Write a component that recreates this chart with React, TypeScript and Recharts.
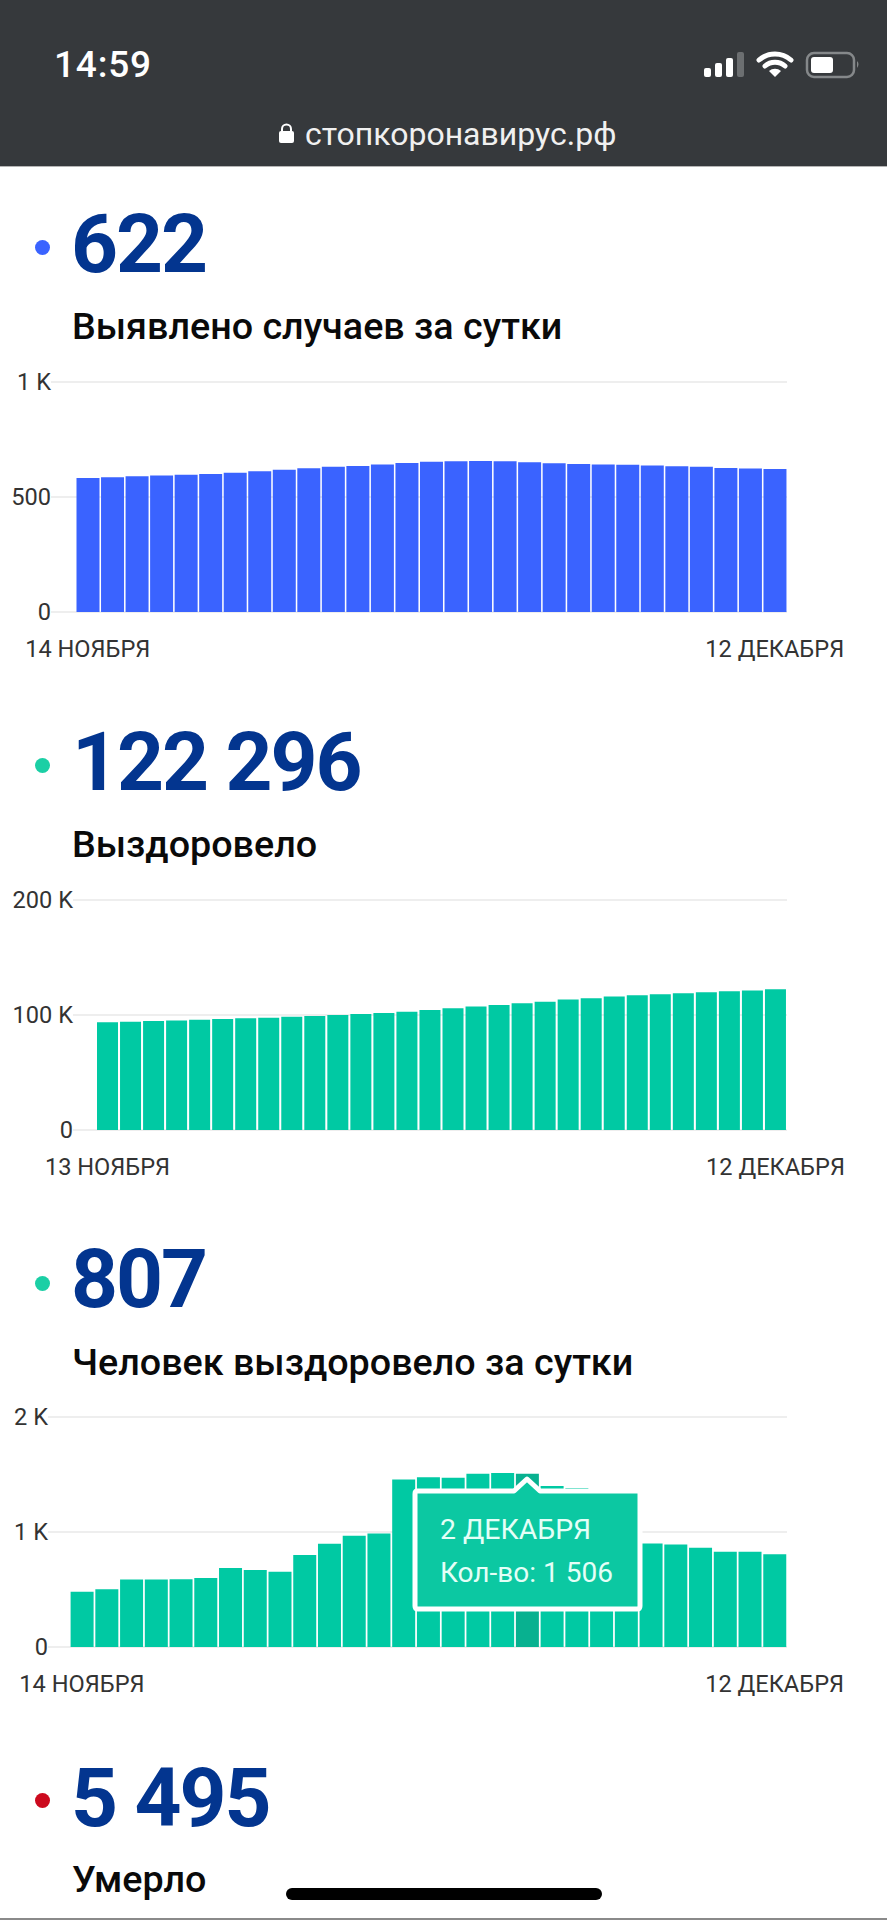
import { Bar, BarChart, CartesianGrid, Tooltip, XAxis, YAxis } from "recharts";

const days14Nov = [
  "14 НОЯБРЯ", "15 НОЯБРЯ", "16 НОЯБРЯ", "17 НОЯБРЯ", "18 НОЯБРЯ", "19 НОЯБРЯ", "20 НОЯБРЯ", "21 НОЯБРЯ",
  "22 НОЯБРЯ", "23 НОЯБРЯ", "24 НОЯБРЯ", "25 НОЯБРЯ", "26 НОЯБРЯ", "27 НОЯБРЯ", "28 НОЯБРЯ", "29 НОЯБРЯ",
  "30 НОЯБРЯ", "1 ДЕКАБРЯ", "2 ДЕКАБРЯ", "3 ДЕКАБРЯ", "4 ДЕКАБРЯ", "5 ДЕКАБРЯ", "6 ДЕКАБРЯ", "7 ДЕКАБРЯ",
  "8 ДЕКАБРЯ", "9 ДЕКАБРЯ", "10 ДЕКАБРЯ", "11 ДЕКАБРЯ", "12 ДЕКАБРЯ",
];
const days13Nov = ["13 НОЯБРЯ", ...days14Nov];

const newCases = [
  583, 586, 590, 593, 597, 600, 605, 612, 619, 625, 632, 635, 641, 648, 653, 655, 657, 655, 651, 647, 644, 641,
  640, 637, 634, 631, 626, 624, 622,
];
const recoveredTotal = [
  93600, 94200, 94800, 95300, 95900, 96500, 97100, 97700, 98500, 99100, 100000, 100900, 101700, 102900, 104400,
  105800, 107300, 108700, 110200, 111600, 113400, 114500, 116000, 117200, 118000, 118900, 119800, 120600, 121200,
  122296,
];
// bars 21 and 22 sit behind the tooltip in the picture, so these two are guesses
const recoveredDaily = [
  480, 503, 587, 587, 590, 599, 686, 669, 654, 800, 898, 968, 988, 1456, 1477, 1471, 1506, 1512, 1506, 1400, 1382,
  1250, 1050, 901, 892, 863, 828, 828, 807,
];

const newCasesTicks = [0, 500, 1000];
const recoveredTotalTicks = [0, 100000, 200000];
const recoveredDailyTicks = [0, 1000, 2000];

const BLUE = "#3a63ff";
const GREEN = "#00c9a3";
const DARK_GREEN = "#08b190";
const NAVY = "#03358f";
const FONT = "Roboto, sans-serif";

const formatAxis = (v: number) => (v >= 1000 ? `${v / 1000} K` : `${v}`);

function BubbleTooltip({ active, payload, label }: any) {
  if (!active || !payload?.length) return null;
  const value = String(payload[0].value).replace(/\B(?=(\d{3})+$)/g, " ");
  return (
    <svg width={240} height={146} style={{ display: "block", fontFamily: FONT }}>
      <path
        d="M10 21 H107 L120 9 L133 21 H231 Q233 21 233 24 V136 Q233 139 230 139 H11 Q8 139 8 136 V24 Q8 21 10 21 Z"
        fill="#0cc8a2"
        stroke="#fff"
        strokeWidth={5}
        strokeLinejoin="round"
      />
      <text x={33} y={69} fontSize={28.4} fill="#e4fff7">
        {label}
      </text>
      <text x={33} y={112} fontSize={28} fill="#e4fff7">
        Кол-во: {value}
      </text>
    </svg>
  );
}

function DayBars({
  days,
  values,
  yTicks,
  color,
  top,
  left,
  slot,
  showTooltip,
}: {
  days: string[];
  values: number[];
  yTicks: number[];
  color: string;
  top: number;
  left: number;
  slot: number;
  showTooltip?: boolean;
}) {
  const data = days.map((day, i) => ({ day, value: values[i] }));
  return (
    <div style={{ position: "absolute", left: 0, top }}>
      <BarChart
        width={887}
        height={310}
        data={data}
        margin={{ top: 20, right: 100, bottom: 0, left: 0 }}
        barCategoryGap={1}
      >
        <CartesianGrid stroke="#eeeeee" strokeWidth={2} vertical={false} />
        <XAxis
          dataKey="day"
          ticks={[days[0], days[days.length - 1]]}
          interval={0}
          height={60}
          padding={{ left: slot, right: 0 }}
          axisLine={false}
          tickLine={false}
          tickSize={0}
          tickMargin={28}
          tick={{ fill: "#333333", fontSize: 23.6, fontFamily: FONT }}
        />
        <YAxis
          width={left}
          domain={[yTicks[0], yTicks[yTicks.length - 1]]}
          ticks={yTicks}
          interval={0}
          tickFormatter={formatAxis}
          axisLine={false}
          tickLine={false}
          tickSize={0}
          tickMargin={0}
          tick={{ fill: "#333333", fontSize: 23.6, fontFamily: FONT }}
        />
        {showTooltip && (
          <Tooltip
            active
            defaultIndex={18}
            cursor={false}
            content={<BubbleTooltip />}
            position={{ x: 407, y: 1470 - top }}
            allowEscapeViewBox={{ x: true, y: true }}
            isAnimationActive={false}
          />
        )}
        <Bar dataKey="value" fill={color} isAnimationActive={false} activeBar={{ fill: DARK_GREEN }} />
      </BarChart>
    </div>
  );
}

function Headline({ x, dotY, base, dot, text }: { x: number; dotY: number; base: number; dot: string; text: string }) {
  return (
    <>
      <div
        style={{
          position: "absolute",
          left: 35,
          top: dotY - 7.5,
          width: 15,
          height: 15,
          borderRadius: "50%",
          background: dot,
        }}
      />
      <div
        style={{
          position: "absolute",
          left: x,
          top: base - 79,
          height: 100,
          lineHeight: "100px",
          fontFamily: FONT,
          fontWeight: 700,
          fontSize: 82,
          color: NAVY,
          letterSpacing: -2,
          whiteSpace: "nowrap",
        }}
      >
        {text}
      </div>
    </>
  );
}

function Caption({ base, text }: { base: number; text: string }) {
  return (
    <div
      style={{
        position: "absolute",
        left: 72,
        top: base - 38,
        height: 50,
        lineHeight: "50px",
        fontFamily: FONT,
        fontWeight: 500,
        fontSize: 37.7,
        color: "#0a0a0a",
        whiteSpace: "nowrap",
      }}
    >
      {text}
    </div>
  );
}

function BrowserBar() {
  return (
    <div style={{ position: "absolute", left: 0, top: 0, width: 887, height: 166, background: "#36393c", borderBottom: "1px solid #b5b5b5" }}>
      <div style={{ position: "absolute", left: 54, top: 42, lineHeight: "46px", fontFamily: FONT, fontWeight: 500, fontSize: 37, letterSpacing: 0.8, color: "#fff" }}>
        14:59
      </div>
      <div style={{ position: "absolute", left: 305, top: 114, lineHeight: "40px", fontFamily: FONT, fontSize: 32, color: "#f0f0f0" }}>
        стопкоронавирус.рф
      </div>
      <svg width={887} height={166} style={{ position: "absolute", left: 0, top: 0 }}>
        <rect x={279} y={131} width={15} height={12} rx={2} fill="#fff" />
        <path d="M282 132 V129 A4.5 4.5 0 0 1 291 129 V132" fill="none" stroke="#fff" strokeWidth={2} />
        <rect x={704} y={68} width={7} height={9} rx={2} fill="#fff" />
        <rect x={715} y={63} width={7} height={14} rx={2} fill="#fff" />
        <rect x={726} y={58} width={7} height={19} rx={2} fill="#fff" />
        <rect x={737} y={52} width={7} height={25} rx={2} fill="#6c6f71" />
        <path d="M759 60 A24 24 0 0 1 791 60" fill="none" stroke="#fff" strokeWidth={5} strokeLinecap="round" />
        <path d="M765 66 A15 15 0 0 1 785 66" fill="none" stroke="#fff" strokeWidth={5} strokeLinecap="round" />
        <path d="M775 77 L769 71 A9 9 0 0 1 781 71 Z" fill="#fff" />
        <rect x={807} y={53} width={47} height={24} rx={7} fill="none" stroke="#85888a" strokeWidth={2.5} />
        <rect x={811} y={57} width={22} height={16} rx={3} fill="#fff" />
        <path d="M857 61 Q860 64 857 68 Z" fill="#85888a" />
      </svg>
    </div>
  );
}

export default function App() {
  return (
    <div style={{ position: "absolute", left: 0, top: 0, width: 887, height: 1920, background: "#ffffff", overflow: "hidden" }}>
      <BrowserBar />

      <Headline x={71} dotY={247} base={273} dot={BLUE} text="622" />
      <Caption base={339} text="Выявлено случаев за сутки" />
      <DayBars days={days14Nov} values={newCases} yTicks={newCasesTicks} color={BLUE} top={362} left={51} slot={24.5} />

      <Headline x={72} dotY={765} base={791} dot="#1bcfa5" text="122 296" />
      <Caption base={857} text="Выздоровело" />
      <DayBars days={days13Nov} values={recoveredTotal} yTicks={recoveredTotalTicks} color={GREEN} top={880} left={73} slot={23} />

      <Headline x={71} dotY={1283} base={1308} dot="#1bcfa5" text="807" />
      <Caption base={1375} text="Человек выздоровело за сутки" />
      <DayBars days={days14Nov} values={recoveredDaily} yTicks={recoveredDailyTicks} color={GREEN} top={1397} left={48} slot={21.6} showTooltip />

      <Headline x={71} dotY={1800} base={1827} dot="#cc0a1e" text="5 495" />
      <Caption base={1892} text="Умерло" />

      <div style={{ position: "absolute", left: 286, top: 1888, width: 316, height: 12, borderRadius: 6, background: "#000" }} />
      <div style={{ position: "absolute", left: 0, top: 1918, width: 887, height: 2, background: "#8a8a8a" }} />
    </div>
  );
}
